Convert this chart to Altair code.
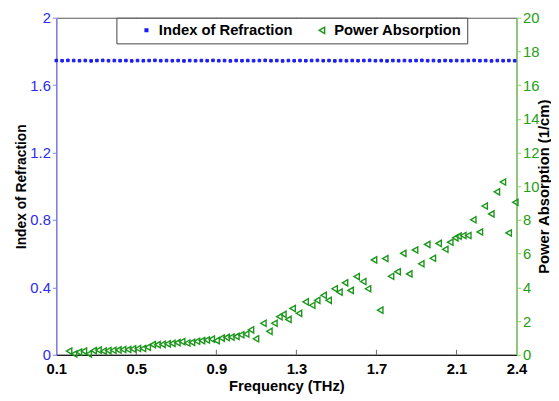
import altair as alt
import pandas as pd

# ---------------- data ----------------
series = ["Index of Refraction", "Power Absorption"]

freq_idx = [0.100, 0.129, 0.158, 0.187, 0.216, 0.245, 0.274, 0.303, 0.332, 0.361,
            0.390, 0.419, 0.448, 0.477, 0.506, 0.535, 0.564, 0.593, 0.622, 0.651,
            0.680, 0.709, 0.738, 0.767, 0.796, 0.825, 0.854, 0.883, 0.912, 0.941,
            0.970, 0.999, 1.028, 1.057, 1.086, 1.115, 1.144, 1.173, 1.202, 1.231,
            1.260, 1.289, 1.318, 1.347, 1.376, 1.405, 1.434, 1.463, 1.492, 1.521,
            1.550, 1.579, 1.608, 1.637, 1.666, 1.695, 1.724, 1.753, 1.782, 1.811,
            1.840, 1.869, 1.898, 1.927, 1.956, 1.985, 2.014, 2.043, 2.072, 2.101,
            2.130, 2.159, 2.188, 2.217, 2.246, 2.275, 2.304, 2.333, 2.362, 2.391]

n_idx = [1.746, 1.745, 1.747, 1.746, 1.745, 1.746, 1.744, 1.746, 1.747, 1.745,
         1.746, 1.745, 1.746, 1.744, 1.746, 1.745, 1.746, 1.747, 1.745, 1.746,
         1.745, 1.746, 1.744, 1.746, 1.745, 1.746, 1.745, 1.747, 1.745, 1.746,
         1.744, 1.746, 1.745, 1.746, 1.745, 1.746, 1.747, 1.745, 1.746, 1.744,
         1.746, 1.745, 1.746, 1.745, 1.746, 1.747, 1.745, 1.746, 1.744, 1.746,
         1.745, 1.746, 1.745, 1.746, 1.747, 1.745, 1.746, 1.744, 1.746, 1.745,
         1.746, 1.745, 1.746, 1.747, 1.745, 1.746, 1.744, 1.746, 1.745, 1.746,
         1.745, 1.746, 1.747, 1.745, 1.746, 1.744, 1.746, 1.745, 1.746, 1.745]

freq_abs = [0.164, 0.189, 0.213, 0.238, 0.262, 0.287, 0.311, 0.336, 0.360, 0.385,
            0.410, 0.434, 0.459, 0.483, 0.508, 0.533, 0.557, 0.582, 0.606, 0.631,
            0.656, 0.680, 0.705, 0.729, 0.754, 0.778, 0.803, 0.828, 0.852, 0.877,
            0.901, 0.926, 0.951, 0.975, 1.000, 1.024, 1.049, 1.073, 1.098, 1.135,
            1.165, 1.190, 1.215, 1.235, 1.260, 1.281, 1.313, 1.346, 1.379, 1.404,
            1.436, 1.461, 1.491, 1.515, 1.543, 1.571, 1.601, 1.634, 1.658, 1.688,
            1.719, 1.744, 1.773, 1.806, 1.834, 1.864, 1.893, 1.924, 1.954, 1.982,
            2.011, 2.044, 2.069, 2.094, 2.110, 2.134, 2.159, 2.184, 2.217, 2.241,
            2.274, 2.302, 2.332, 2.361, 2.394]

alpha_abs = [0.22, 0.05, 0.16, 0.22, 0.05, 0.25, 0.28, 0.22, 0.25, 0.27,
             0.29, 0.31, 0.31, 0.35, 0.37, 0.37, 0.45, 0.60, 0.60, 0.62,
             0.65, 0.68, 0.72, 0.78, 0.70, 0.74, 0.80, 0.84, 0.88, 0.93,
             0.84, 0.99, 1.03, 1.05, 1.09, 1.19, 1.23, 1.48, 0.95, 1.87,
             1.39, 1.87, 2.26, 2.40, 2.10, 2.75, 2.46, 3.14, 2.94, 3.23,
             3.53, 3.23, 3.92, 3.72, 4.27, 3.82, 4.64, 4.35, 3.92, 5.63,
             2.65, 5.71, 4.66, 4.93, 6.02, 4.80, 6.22, 5.40, 6.55, 5.73,
             6.61, 6.26, 6.68, 6.94, 7.04, 7.08, 7.08, 8.01, 7.29, 8.83,
             8.36, 9.67, 10.25, 7.23, 9.05]

x_ticks = [0.1, 0.5, 0.9, 1.3, 1.7, 2.1, 2.4]
inner_ticks = [0.5, 0.9, 1.3, 1.7, 2.1]
left_ticks = [0, 0.4, 0.8, 1.2, 1.6, 2.0]
right_ticks = [0, 2, 4, 6, 8, 10, 12, 14, 16, 18, 20]

# ---------------- tables ----------------
df_idx = pd.DataFrame({"freq": freq_idx, "val": n_idx, "series": series[0]})
df_abs = pd.DataFrame({"freq": freq_abs, "val": alpha_abs, "series": series[1]})
df_ticks = pd.DataFrame({"freq": inner_ticks})

FONT = "Liberation Sans"
BLUE = "#1a1af2"
BLUE_AX = "#8080ff"
BLUE_LBL = "#2b2bee"
GREEN = "#1a961a"
GREEN_AX = "#80d860"
GREEN_LBL = "#25a010"

W, H = 467, 342

x_enc = alt.X(
    "freq:Q",
    scale=alt.Scale(domain=[0.1, 2.4], nice=False, zero=False),
    axis=alt.Axis(
        title="Frequency (THz)", values=x_ticks, format=".1f",
        labelFont=FONT, labelFontSize=15, labelFontWeight="bold", labelColor="black",
        labelPadding=7, tickSize=0, domainColor="black", domainWidth=1, grid=False,
        labelFlush=False,
        titleFont=FONT, titleFontSize=15, titleFontWeight="bold", titleColor="black",
        titleY=31, titleBaseline="middle",
    ),
)

common = dict(
    stroke=alt.Stroke("series:N", scale=alt.Scale(domain=series, range=[BLUE, GREEN]), title=None),
    fill=alt.Fill("series:N", scale=alt.Scale(domain=series, range=[BLUE, "transparent"]), title=None),
    shape=alt.Shape("series:N", scale=alt.Scale(domain=series, range=["square", "triangle-left"]), title=None),
    size=alt.Size("series:N", scale=alt.Scale(domain=series, range=[7, 40]), title=None),
)

idx_layer = alt.Chart(df_idx).mark_point(opacity=1, strokeWidth=1).encode(
    x=x_enc,
    y=alt.Y(
        "val:Q",
        scale=alt.Scale(domain=[0, 2], nice=False),
        axis=alt.Axis(
            orient="left", values=left_ticks, format=".1~f", grid=False,
            labelFont=FONT, labelFontSize=15, labelColor=BLUE_LBL, labelPadding=2,
            domainColor=BLUE_AX, domainWidth=1.2, tickColor=BLUE_AX, tickSize=4,
            title="Index of Refraction", titleFont=FONT, titleFontSize=14,
            titleFontWeight="bold", titleColor="black", titleAngle=270,
            titleX=-35, titleY=H / 2, titleAlign="center", titleBaseline="middle",
        ),
    ),
    **common,
)

abs_layer = alt.Chart(df_abs).mark_point(opacity=1, strokeWidth=1.4).encode(
    x=x_enc,
    y=alt.Y(
        "val:Q",
        scale=alt.Scale(domain=[0, 20], nice=False),
        axis=alt.Axis(
            orient="right", values=right_ticks, format="d", grid=False,
            labelFont=FONT, labelFontSize=15, labelColor=GREEN_LBL, labelPadding=2,
            domainColor=GREEN_AX, domainWidth=1.2, tickColor=GREEN_AX, tickSize=4,
            title="Power Absorption (1/cm)", titleFont=FONT, titleFontSize=15,
            titleFontWeight="bold", titleColor="black", titleAngle=270,
            titleX=27, titleY=H / 2, titleAlign="center", titleBaseline="middle",
        ),
    ),
    **common,
)

ticks_bottom = alt.Chart(df_ticks).mark_rule(color="#666", strokeWidth=1).encode(
    x=x_enc, y=alt.value(H), y2=alt.value(H - 5)
)
ticks_top = alt.Chart(df_ticks).mark_rule(color="#666", strokeWidth=1).encode(
    x=x_enc, y=alt.value(0), y2=alt.value(5)
)

chart = (
    alt.layer(idx_layer, abs_layer, ticks_bottom, ticks_top)
    .resolve_scale(y="independent")
    .properties(
        width=W, height=H,
        autosize=alt.AutoSizeParams(type="none"),
        padding={"left": 49, "top": 7, "right": 35, "bottom": 44},
    )
    .configure_view(stroke="#555", strokeWidth=1)
    .configure_legend(
        orient="none", legendX=61, legendY=0, direction="horizontal", columns=2,
        strokeColor="#444", fillColor="white", padding=5,
        labelFont=FONT, labelFontSize=15, labelFontWeight="bold", labelColor="black",
        symbolOffset=18, labelOffset=5, columnPadding=4,
    )
)

chart.save("out.html", embed_options={"renderer": "svg", "actions": False})
